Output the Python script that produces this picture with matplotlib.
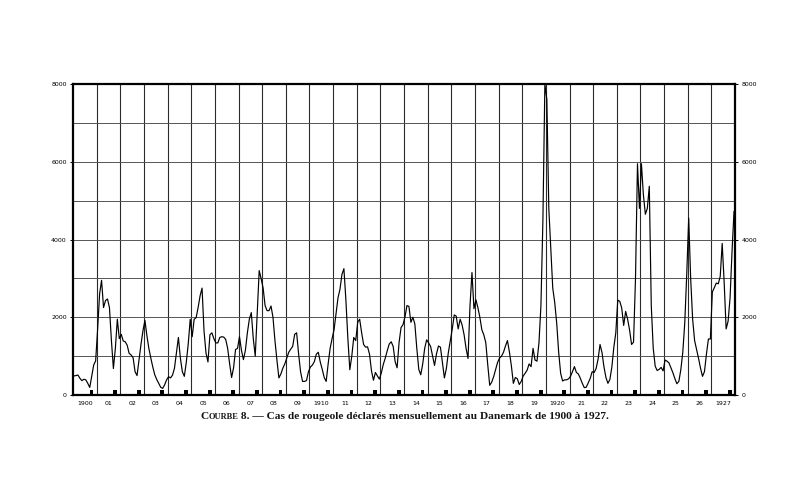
import numpy as np
import matplotlib.pyplot as plt

# Cas mensuels (janvier 1900 -> décembre 1927)
cases_1900_1909 = [
    490, 500, 515, 430, 370, 405, 390, 300, 195, 480, 770, 880,
    1700, 2600, 2950, 2250, 2430, 2470, 2250, 1400, 680, 1200, 1950, 1450,
    1560, 1390, 1370, 1280, 1070, 1030, 960, 600, 500, 900, 1300, 1650,
    1920, 1530, 1200, 950, 720, 520, 400, 300, 200, 170, 260, 390,
    470, 440, 510, 690, 1080, 1480, 950, 600, 480, 840, 1320, 1950,
    1500, 1950, 1990, 2250, 2550, 2750, 1650, 1080, 850, 1550, 1600, 1450,
    1340, 1340, 1480, 1500, 1490, 1430, 1200, 800, 450, 700, 1170, 1200,
    1500, 1150, 910, 1150, 1600, 1950, 2120, 1450, 1000, 2100, 3200, 2990,
    2750, 2300, 2170, 2170, 2290, 2000, 1400, 900, 440, 540, 690, 800,
    950, 1100, 1180, 1250, 1560, 1600, 1060, 600, 350, 350, 370, 600,
]
cases_1910_1919 = [
    720, 770, 860, 1050, 1100, 850, 660, 450, 350, 800, 1200, 1450,
    1680, 2100, 2500, 2720, 3100, 3250, 2450, 1460, 650, 1000, 1480, 1400,
    1870, 1950, 1600, 1300, 1230, 1240, 1050, 620, 380, 580, 490, 410,
    570, 790, 950, 1140, 1310, 1370, 1250, 860, 700, 1350, 1735, 1810,
    2010, 2300, 2280, 1870, 2000, 1830, 1200, 660, 520, 800, 1200, 1420,
    1340, 1250, 1010, 760, 1060, 1260, 1230, 830, 440, 680, 1090, 1400,
    1700, 2060, 2030, 1700, 1950, 1800, 1550, 1200, 940, 2300, 3150, 2220,
    2450, 2250, 2000, 1680, 1550, 1350, 780, 250, 330, 470, 650, 840,
    950, 1000, 1100, 1260, 1400, 1110, 750, 300, 450, 420, 270, 350,
    490, 560, 640, 800, 730, 1200, 900, 870, 1340, 2300, 4500, 8000,
]
cases_1920_1927 = [
    7600, 4800, 3800, 2750, 2380, 1850, 1100, 560, 360, 390, 390, 415,
    480, 600, 730, 580, 540, 430, 300, 190, 200, 310, 425, 600,
    580, 680, 920, 1300, 1090, 720, 450, 300, 400, 720, 1230, 1600,
    2440, 2410, 2240, 1790, 2150, 1950, 1670, 1300, 1360, 3000, 5950, 4800,
    5950, 5150, 4650, 4800, 5370, 2300, 1200, 740, 630, 660, 710, 620,
    900, 870, 825, 700, 570, 420, 290, 350, 650, 1100, 1850, 3100,
    4550, 3000, 1950, 1400, 1170, 940, 690, 480, 600, 1050, 1440, 1440,
    2650, 2760, 2880, 2860, 3050, 3900, 2900, 1700, 1900, 2500, 3700, 4720,
]

year_labels = ['1900', '01', '02', '03', '04', '05', '06', '07', '08', '09',
               '1910', '11', '12', '13', '14', '15', '16', '17', '18', '19',
               '1920', '21', '22', '23', '24', '25', '26', '1927']
y_labels = [0, 2000, 4000, 6000, 8000]


def small_caps_caption(fig, x_center, y, pieces):
    """Place une légende en petites capitales, morceau par morceau, centrée."""
    renderer = fig.canvas.get_renderer()
    texts = []
    for text, size in pieces:
        t = fig.text(0, y, text, fontsize=size, family='Liberation Serif',
                     weight='bold', ha='left', va='baseline', color='#151515')
        texts.append(t)
    widths = [t.get_window_extent(renderer).width / fig.bbox.width for t in texts]
    x = x_center - sum(widths) / 2
    for t, w in zip(texts, widths):
        t.set_x(x)
        x += w


def main():
    cases = np.array(cases_1900_1909 + cases_1910_1919 + cases_1920_1927)
    months = (np.arange(len(cases)) + 0.5) / 12

    fig = plt.figure(figsize=(8, 4.91), dpi=100)
    ax = fig.add_axes([0.09125, 0.1955, 0.8275, 0.6334])

    # Quadrillage : une ligne par année, une ligne par millier
    ax.set_xlim(0, 28)
    ax.set_ylim(0, 8000)
    ax.set_xticks(np.arange(1, 28), minor=True)
    ax.set_yticks(np.arange(1000, 8000, 1000), minor=True)
    ax.grid(which='minor', axis='x', color='#2a2a2a', lw=0.8)
    ax.grid(which='both', axis='y', color='#555555', lw=0.7)

    ax.plot(months, cases, color='black', lw=0.85, zorder=3)

    # Petits repères carrés au bas de chaque année
    ax.bar(np.arange(28) + 0.78, 120, width=0.16, color='black', zorder=4)

    ax.set_xticks(np.arange(28) + 0.5)
    ax.set_xticklabels(year_labels, fontsize=4.5)
    ax.set_yticks(y_labels)
    ax.set_yticklabels([str(v) for v in y_labels], fontsize=4.5)
    ax.tick_params(axis='x', which='both', length=0, pad=4)
    ax.tick_params(axis='y', which='major', length=2.5, width=0.7, pad=2,
                   left=True, right=True, labelleft=True, labelright=True)
    ax.tick_params(axis='y', which='minor', length=0)
    for spine in ax.spines.values():
        spine.set_linewidth(1.6)

    small_caps_caption(fig, 0.506, 0.146, [
        ('C', 8.2), ('OURBE', 6.0),
        (' 8. — Cas de rougeole déclarés mensuellement au Danemark de 1900 à 1927.', 8.2),
    ])

    fig.savefig('out.png', dpi=100, facecolor='white')


if __name__ == "__main__":
    main()
